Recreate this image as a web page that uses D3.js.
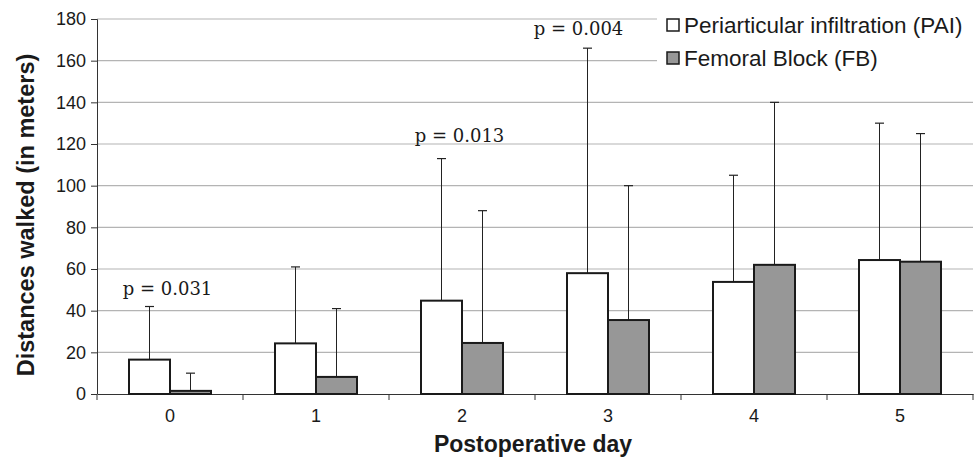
<!DOCTYPE html>
<html>
<head>
<meta charset="utf-8">
<script src="https://cdn.jsdelivr.net/npm/d3@7"></script>
<style>
  body { margin: 0; background: #fff; }
</style>
</head>
<body>
<div id="chart"></div>
<script>
// data
const days = ["0", "1", "2", "3", "4", "5"];
const seriesNames = ["Periarticular infiltration (PAI)", "Femoral Block (FB)"];
const paiMeans = [16.5, 24.3, 44.8, 58, 53.8, 64.3];
const paiUpper = [42, 61, 113, 166, 105, 130];
const fbMeans = [1.5, 8.2, 24.5, 35.5, 62, 63.5];
const fbUpper = [10, 41, 88, 100, 140, 125];
const yTicks = [0, 20, 40, 60, 80, 100, 120, 140, 160, 180];
const pDays = ["0", "2", "3"];
const pTexts = ["p = 0.031", "p = 0.013", "p = 0.004"];
const pUpper = [42, 113, 166];

const sans = "'Liberation Sans', Arial, sans-serif";
const serif = "'DejaVu Serif', 'Liberation Serif', serif";

const svgWidth = 980;
const svgHeight = 462;
const margin = { top: 19, right: 7, bottom: 68, left: 97 };
const chartWidth = svgWidth - margin.left - margin.right;
const chartHeight = svgHeight - margin.top - margin.bottom;

const svg = d3.select("#chart")
  .append("svg")
  .attr("width", svgWidth)
  .attr("height", svgHeight)
  .style("font-family", sans);

const chartGroup = svg.append("g")
  .attr("transform", `translate(${margin.left}, ${margin.top})`);

// scales
const x0 = d3.scaleBand().domain(days).range([0, chartWidth]).padding(0);
const x1 = d3.scaleBand().domain([0, 1]).range([32, 114]);
const y = d3.scaleLinear().domain([0, 180]).range([chartHeight, 0]);

// gridlines (the top two stop at the legend)
chartGroup.append("g")
  .selectAll("line")
  .data(yTicks.filter(d => d > 0))
  .enter()
  .append("line")
  .attr("x1", 0)
  .attr("x2", d => d >= 160 ? 560 : chartWidth)
  .attr("y1", d => y(d))
  .attr("y2", d => y(d))
  .attr("stroke", "#b4b4b4")
  .attr("stroke-width", 1.2);

// y axis
const leftAxis = d3.axisLeft(y).tickValues(yTicks).tickSize(6).tickPadding(5);
const yAxis = chartGroup.append("g").call(leftAxis);
yAxis.select(".domain").attr("stroke", "#333").attr("d", `M-6,0.5H0.5V${chartHeight}`);
yAxis.selectAll(".tick line").attr("stroke", "#333");
yAxis.selectAll("text")
  .style("font-family", sans)
  .style("font-size", "18px")
  .attr("fill", "#1a1a1a");

// x axis
const bottomAxis = d3.axisBottom(x0).tickSize(0).tickPadding(15);
const xAxis = chartGroup.append("g")
  .attr("transform", `translate(0, ${chartHeight})`)
  .call(bottomAxis);
xAxis.select(".domain").attr("stroke", "#333");
xAxis.selectAll("text")
  .style("font-family", sans)
  .style("font-size", "18px")
  .attr("fill", "#1a1a1a");
xAxis.selectAll(".bound")
  .data(days.concat(["end"]))
  .enter()
  .append("line")
  .attr("x1", d => d === "end" ? chartWidth : x0(d))
  .attr("x2", d => d === "end" ? chartWidth : x0(d))
  .attr("y1", 0)
  .attr("y2", 6)
  .attr("stroke", "#333");

// bars
const rows = days.map((d, i) => ({ day: d, vals: [paiMeans[i], fbMeans[i]], ups: [paiUpper[i], fbUpper[i]] }));
const fills = ["#ffffff", "#979797"];

const groups = chartGroup.selectAll(".day")
  .data(rows)
  .enter()
  .append("g")
  .attr("transform", d => `translate(${x0(d.day)}, 0)`);

// error bars (drawn behind the bars)
groups.selectAll(".err")
  .data(d => d.vals.map((v, k) => ({ k: k, v: v, up: d.ups[k] })))
  .enter()
  .append("g")
  .each(function (d) {
    const g = d3.select(this);
    const cx = x1(d.k) + x1.bandwidth() / 2;
    g.append("line")
      .attr("x1", cx).attr("x2", cx)
      .attr("y1", y(d.v)).attr("y2", y(d.up))
      .attr("stroke", "#222").attr("stroke-width", 1);
    g.append("line")
      .attr("x1", cx - 4.5).attr("x2", cx + 4.5)
      .attr("y1", y(d.up)).attr("y2", y(d.up))
      .attr("stroke", "#222").attr("stroke-width", 1.2);
  });

groups.selectAll("rect")
  .data(d => d.vals.map((v, k) => ({ k: k, v: v })))
  .enter()
  .append("rect")
  .attr("x", d => x1(d.k))
  .attr("y", d => y(d.v))
  .attr("width", x1.bandwidth())
  .attr("height", d => chartHeight - y(d.v))
  .attr("fill", d => fills[d.k])
  .attr("stroke", "#1a1a1a")
  .attr("stroke-width", 2);

// p-value labels, nudged off the PAI error bar like the original
const pNudge = [[18, -12], [18, -17], [-9, -13]];
chartGroup.selectAll(".plabel")
  .data(pTexts)
  .enter()
  .append("text")
  .attr("x", (d, i) => x0(pDays[i]) + x1(0) + x1.bandwidth() / 2 + pNudge[i][0])
  .attr("y", (d, i) => y(pUpper[i]) + pNudge[i][1])
  .attr("text-anchor", "middle")
  .style("font-family", serif)
  .style("font-size", "18px")
  .attr("fill", "#1a1a1a")
  .text(d => d);

// legend
const legend = svg.append("g").attr("transform", "translate(667, 19)");
seriesNames.forEach((name, i) => {
  legend.append("rect")
    .attr("x", 0)
    .attr("y", i * 33)
    .attr("width", 12)
    .attr("height", 12)
    .attr("fill", fills[i])
    .attr("stroke", "#1a1a1a")
    .attr("stroke-width", 1.5);
  legend.append("text")
    .attr("x", 17)
    .attr("y", i * 33 + 6)
    .attr("dy", "0.36em")
    .style("font-size", "22.5px")
    .attr("fill", "#1a1a1a")
    .text(name);
});

// axis titles
svg.append("text")
  .attr("transform", "rotate(-90)")
  .attr("x", -215)
  .attr("y", 34)
  .attr("text-anchor", "middle")
  .attr("font-weight", "bold")
  .style("font-size", "23.5px")
  .attr("fill", "#1a1a1a")
  .text("Distances walked (in meters)");

svg.append("text")
  .attr("x", 533)
  .attr("y", 452)
  .attr("text-anchor", "middle")
  .attr("font-weight", "bold")
  .style("font-size", "23px")
  .attr("fill", "#1a1a1a")
  .text("Postoperative day");
</script>
</body>
</html>
